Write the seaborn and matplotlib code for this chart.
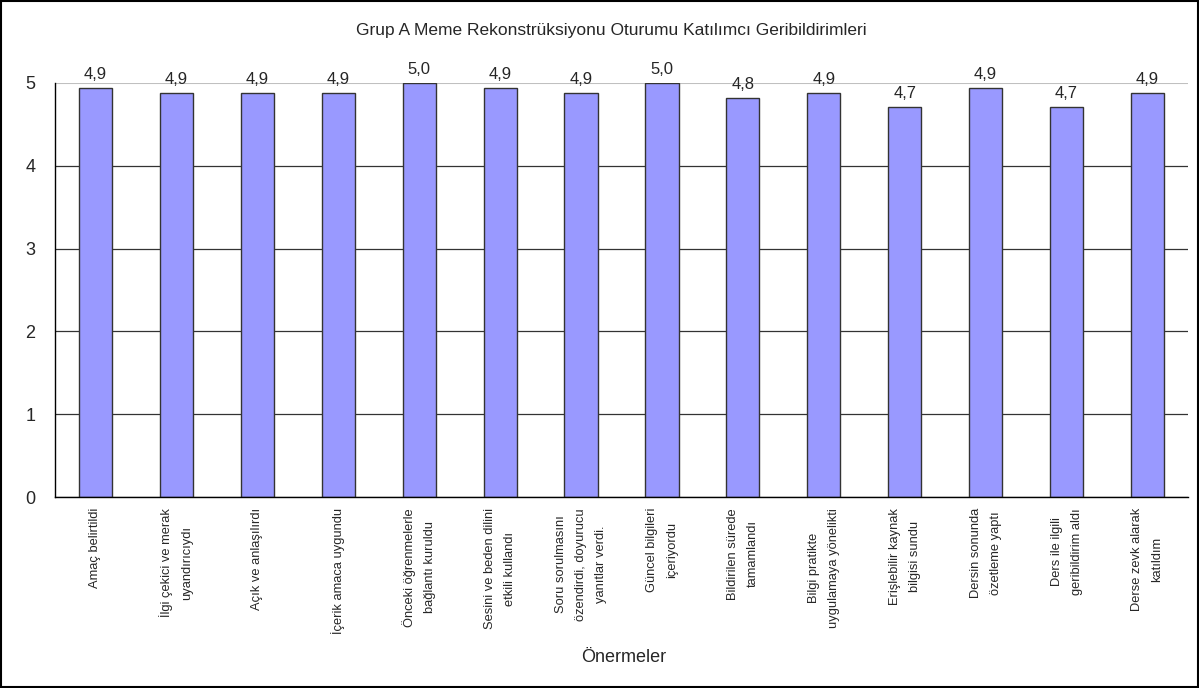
import matplotlib
matplotlib.use("Agg")
import matplotlib.pyplot as plt
import numpy as np
import pandas as pd
import seaborn as sns
from matplotlib.patches import Rectangle

title = "Grup A Meme Rekonstrüksiyonu Oturumu Katılımcı Geribildirimleri"
x_title = "Önermeler"

statements = [
    "Amaç belirtildi",
    "İlgi çekici ve merak\nuyandırıcıydı",
    "Açık ve anlaşılırdı",
    "İçerik amaca uygundu",
    "Önceki öğrenmelerle\nbağlantı kuruldu",
    "Sesini ve beden dilini\netkili kullandı",
    "Soru sorulmasını\nözendirdi, doyurucu\nyanıtlar verdi.",
    "Güncel bilgileri\niçeriyordu",
    "Bildirilen sürede\ntamamlandı",
    "Bilgi pratikte\nuygulamaya yönelikti",
    "Erişlebilir kaynak\nbilgisi sundu",
    "Dersin sonunda\nözetleme yaptı",
    "Ders ile ilgili\ngeribildirim aldı",
    "Derse zevk alarak\nkatıldım",
]
scores = [4.94, 4.88, 4.88, 4.88, 5.0, 4.94, 4.88, 5.0, 4.82, 4.88, 4.71, 4.94, 4.71, 4.88]
y_ticks = [0, 1, 2, 3, 4, 5]

df = pd.DataFrame({"statement": statements, "score": scores})

sns.set_theme(style="white")
plt.rcParams["font.family"] = ["Liberation Sans", "DejaVu Sans"]

fig = plt.figure(figsize=(11.99, 6.88), dpi=100)
ax = fig.add_axes([55 / 1199, 1 - 497 / 688, (1188 - 55) / 1199, (497 - 83) / 688])

sns.barplot(data=df, x="statement", y="score", color="#9999ff", saturation=1,
            width=0.41, edgecolor="#333333", linewidth=1, ax=ax)

ax.set_ylim(0, 5)
ax.set_xlim(-0.5, len(statements) - 0.5)
ax.set_yticks(y_ticks)
ax.set_yticklabels([str(t) for t in y_ticks], fontsize=13)
ax.tick_params(axis="y", which="major", direction="out", length=5, width=1, color="black", pad=9)

# category labels centred, tick marks between categories
ax.set_xticks(np.arange(len(statements)))
ax.set_xticklabels(statements, rotation=90, ha="center", va="top", fontsize=9.3,
                   multialignment="center", linespacing=1.9)
ax.tick_params(axis="x", which="major", length=0, pad=8)
ax.set_xticks(np.arange(len(statements) + 1) - 0.5, minor=True)
ax.tick_params(axis="x", which="minor", direction="out", length=5, width=1, color="black")

ax.set_xlabel("")
ax.set_ylabel("")

ax.set_axisbelow(True)
ax.yaxis.grid(True, color="#333333", linewidth=0.9)
ax.xaxis.grid(False)
ax.yaxis.get_gridlines()[-1].set_color("#c0c0c0")
ax.yaxis.get_gridlines()[-1].set_linewidth(1.5)

for side in ["top", "right"]:
    ax.spines[side].set_visible(False)
for side in ["left", "bottom"]:
    ax.spines[side].set_color("black")
    ax.spines[side].set_linewidth(1)

labels = [f"{v:.1f}".replace(".", ",") for v in scores]
ax.bar_label(ax.containers[0], labels=labels, padding=4, fontsize=12)

fig.text(0.51, 1 - 30 / 688, title, ha="center", va="center", fontsize=12.5)
fig.text(0.52, 1 - 658 / 688, x_title, ha="center", va="center", fontsize=13)

fig.add_artist(Rectangle((0.001, 0.0015), 0.998, 0.997, transform=fig.transFigure,
                         fill=False, edgecolor="black", linewidth=1.5))

fig.savefig("out.png", dpi=100)
